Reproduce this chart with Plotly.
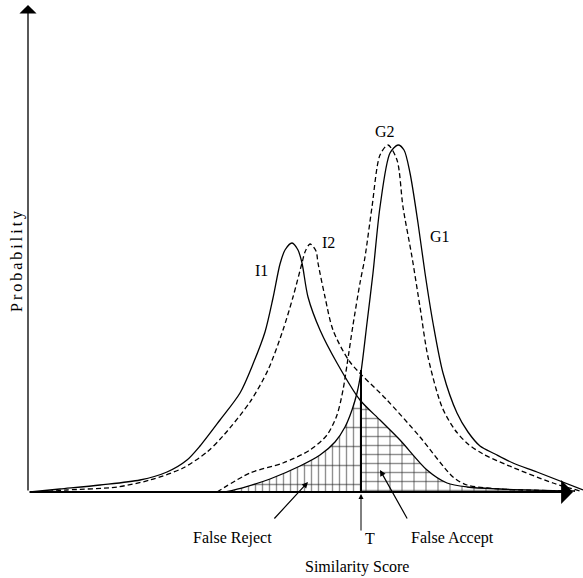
import numpy as np
import plotly.graph_objects as go

# ---- data (score, probability) ----
i1_score = [2, 32, 72, 112, 139, 159, 172, 192, 212, 225, 237, 245, 252, 257, 264, 270, 274, 280, 292, 309, 332, 352, 372, 399, 419, 439, 472, 547]
i1_prob = [0, 3, 7, 12, 20, 32, 46, 72, 99, 128, 160, 194, 228, 242, 249, 242, 229, 195, 162, 129, 92, 72, 52, 22, 9, 5, 3, 1]

i2_score = [12, 39, 89, 122, 155, 179, 195, 222, 240, 255, 265, 274, 277, 282, 288, 290, 297, 305, 322, 359, 392, 425, 439, 472, 547]
i2_prob = [0, 2, 5, 12, 24, 40, 56, 90, 122, 162, 195, 229, 240, 248, 241, 229, 195, 162, 130, 92, 55, 15, 7, 3, 1]

g1_score = [197, 217, 242, 272, 292, 307, 317, 324, 329, 333, 339, 345, 352, 362, 370, 376, 382, 390, 397, 405, 415, 429, 440, 452, 467, 485, 509, 555]
g1_prob = [0, 5, 13, 26, 37, 50, 65, 82, 99, 120, 169, 219, 285, 339, 347, 342, 319, 269, 219, 169, 119, 79, 60, 46, 38, 29, 20, 2]

g2_score = [189, 222, 255, 282, 299, 309, 315, 319, 325, 332, 337, 344, 352, 360, 369, 375, 384, 392, 400, 414, 427, 440, 455, 479, 525, 552]
g2_prob = [0, 19, 29, 42, 57, 77, 102, 127, 167, 209, 235, 285, 337, 347, 332, 285, 235, 185, 135, 85, 62, 48, 38, 27, 9, 1]

threshold = 333
t_top = 122

curve_names = ["I1", "I2", "G1", "G2"]

# ---- derived regions ----
i1_at_t = float(np.interp(threshold, i1_score, i1_prob))
fr_x = [s for s in g1_score if s < threshold - 3] + [threshold]
fr_y = [p for s, p in zip(g1_score, g1_prob) if s < threshold - 3] + [i1_at_t]
fa_x = [threshold] + [s for s in i1_score if s > threshold]
fa_y = [i1_at_t] + [p for s, p in zip(i1_score, i1_prob) if s > threshold]

FONT = "Liberation Serif"
fig = go.Figure()

# False reject hatch (vertical bricks approximated by grid)
fig.add_trace(go.Scatter(x=fr_x, y=fr_y, mode="lines", line=dict(width=0, shape="spline"),
                         fill="tozeroy", fillcolor="rgba(0,0,0,0)",
                         fillpattern=dict(shape="|", size=7, solidity=0.2, fgcolor="#222",
                                          bgcolor="white"),
                         hoverinfo="skip", showlegend=False))
fig.add_trace(go.Scatter(x=fr_x, y=fr_y, mode="lines", line=dict(width=0, shape="spline"),
                         fill="tozeroy", fillcolor="rgba(0,0,0,0)",
                         fillpattern=dict(shape="-", size=19, solidity=0.08, fgcolor="#222",
                                          bgcolor="rgba(0,0,0,0)"),
                         hoverinfo="skip", showlegend=False))
# False accept hatch (horizontal bricks)
fig.add_trace(go.Scatter(x=fa_x, y=fa_y, mode="lines", line=dict(width=0, shape="spline"),
                         fill="tozeroy", fillcolor="rgba(0,0,0,0)",
                         fillpattern=dict(shape="-", size=9, solidity=0.16, fgcolor="#222",
                                          bgcolor="white"),
                         hoverinfo="skip", showlegend=False))
fig.add_trace(go.Scatter(x=fa_x, y=fa_y, mode="lines", line=dict(width=0, shape="spline"),
                         fill="tozeroy", fillcolor="rgba(0,0,0,0)",
                         fillpattern=dict(shape="|", size=12, solidity=0.11, fgcolor="#222",
                                          bgcolor="rgba(0,0,0,0)"),
                         hoverinfo="skip", showlegend=False))

curves = [(i1_score, i1_prob, "solid"), (i2_score, i2_prob, "5px,3px"),
          (g1_score, g1_prob, "solid"), (g2_score, g2_prob, "5px,3px")]
for (xs, ys, dash), name in zip(curves, curve_names):
    fig.add_trace(go.Scatter(x=xs, y=ys, mode="lines", name=name,
                             line=dict(color="black", width=1.3, dash=dash, shape="spline", smoothing=0.8),
                             showlegend=False))

# threshold line
fig.add_trace(go.Scatter(x=[threshold, threshold], y=[0, t_top], mode="lines",
                         line=dict(color="black", width=2), showlegend=False))

ann = []
def arrow(hx, hy, tx, ty, head, size, width):
    ann.append(dict(x=hx, y=hy, ax=tx, ay=ty, xref="x", yref="y", axref="x", ayref="y",
                    showarrow=True, arrowhead=head, arrowsize=size, arrowwidth=width,
                    arrowcolor="black", text="", standoff=0, startstandoff=0))

# axes
arrow(0, 487, 0, 0, 1, 2.2, 1.3)
arrow(545, 0, 0, 0, 1, 2.2, 1.8)
# pointer arrows
arrow(280, 10, 245, -28, 2, 1.0, 1.2)
arrow(352, 22, 380, -28, 2, 1.0, 1.2)
arrow(333, -2, 333, -40, 2, 1.0, 1.0)

def label(x, y, text, angle=0):
    ann.append(dict(x=x, y=y, xref="x", yref="y", text=text, showarrow=False,
                    textangle=angle, font=dict(family=FONT, size=16, color="black"),
                    xanchor="center", yanchor="middle"))

label(233, 222, curve_names[0])
label(300, 250, curve_names[1])
label(412, 256, curve_names[2])
label(357, 361, curve_names[3])
label(204, -46, "False Reject")
label(342, -46, "T")
label(424, -46, "False Accept")
label(329, -75, "Similarity Score")
label(-11, 232, '<span style="letter-spacing:3px">Probability</span>', angle=-90)

fig.update_layout(
    width=583, height=578, margin=dict(l=0, r=0, t=0, b=0),
    paper_bgcolor="white", plot_bgcolor="white",
    xaxis=dict(range=[-28, 555], visible=False, fixedrange=True),
    yaxis=dict(range=[-86, 492], visible=False, fixedrange=True),
    annotations=ann,
)
fig.write_html("out.html", config={"displayModeBar": False, "staticPlot": True},
               post_script="document.body.style.margin='0';document.body.style.overflow='hidden';")
